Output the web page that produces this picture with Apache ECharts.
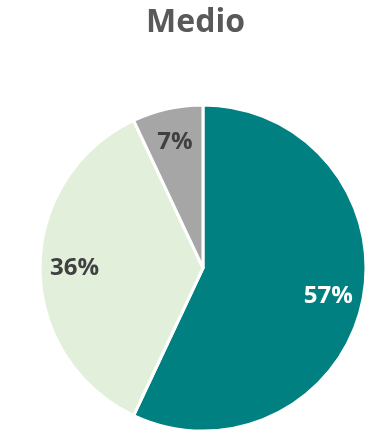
<!DOCTYPE html>
<html>
<head>
<meta charset="utf-8">
<script src="https://cdn.jsdelivr.net/npm/echarts@6/dist/echarts.min.js"></script>
<style>
  html, body { margin: 0; padding: 0; background: #fff; }
  #chart { width: 391px; height: 434px; }
</style>
</head>
<body>
<div id="chart"></div>
<script>
// Shares of the "Medio" group, in drawing order (clockwise from 12 o'clock)
const categories = ['A', 'B', 'C'];
const values = [57, 36, 7];
const sliceColors = ['#008080', '#E2EFDA', '#A6A6A6'];
const labelColors = ['#ffffff', '#404040', '#404040'];

const chart = echarts.init(document.getElementById('chart'), null, { renderer: 'canvas' });

const pieData = categories.map((name, i) => ({
  name,
  value: values[i],
  itemStyle: { color: sliceColors[i] },
  label: { color: labelColors[i] }
}));

const center = [203, 268];
const outer = 163;

chart.setOption({
  animation: false,
  title: {
    text: 'Medio',
    left: 'center',
    top: 2,
    textStyle: { fontFamily: 'Open Sans', fontWeight: 'bold', fontSize: 32, color: '#595959' }
  },
  series: [
    {
      // the slices themselves
      type: 'pie',
      center,
      radius: [0, outer],
      startAngle: 90,
      clockwise: true,
      silent: true,
      label: { show: false },
      labelLine: { show: false },
      itemStyle: { borderColor: '#ffffff', borderWidth: 3 },
      data: pieData
    },
    {
      // transparent ring that carries the percentage labels further out
      type: 'pie',
      center,
      radius: [Math.round(outer * 0.54), outer],
      startAngle: 90,
      clockwise: true,
      silent: true,
      itemStyle: { color: 'rgba(0,0,0,0)', borderWidth: 0 },
      label: {
        show: true,
        position: 'inside',
        formatter: p => p.value + '%',
        fontFamily: 'Open Sans',
        fontWeight: 'bold',
        fontSize: 24
      },
      labelLine: { show: false },
      data: categories.map((name, i) => ({
        name,
        value: values[i],
        itemStyle: { color: 'rgba(0,0,0,0)' },
        label: { color: labelColors[i] }
      }))
    }
  ]
});
</script>
</body>
</html>
